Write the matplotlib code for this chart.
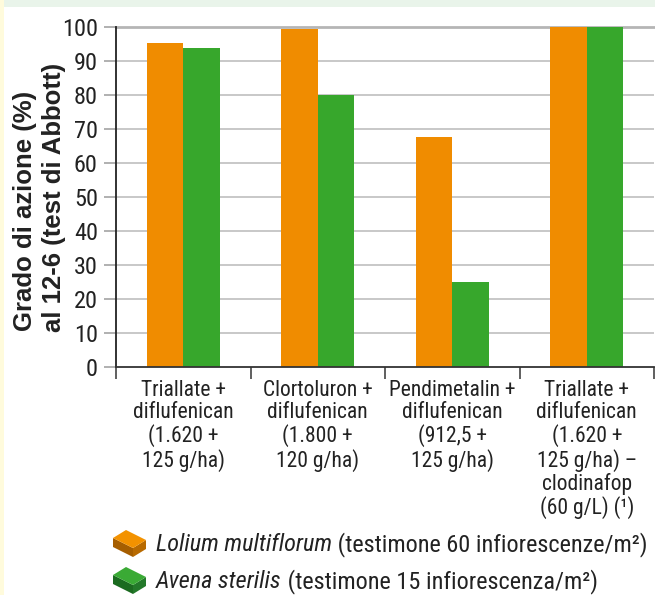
import matplotlib
matplotlib.use("Agg")
import matplotlib.pyplot as plt
from matplotlib import font_manager
from matplotlib.patches import Rectangle, Polygon
import numpy as np

categories = [
    "Triallate +\ndiflufenican\n(1.620 +\n125 g/ha)",
    "Clortoluron +\ndiflufenican\n(1.800 +\n120 g/ha)",
    "Pendimetalin +\ndiflufenican\n(912,5 +\n125 g/ha)",
    "Triallate +\ndiflufenican\n(1.620 +\n125 g/ha) \u2013\nclodinafop\n(60 g/L) (\u00b9)",
]
lolium = [95.3, 99.4, 67.6, 100]
avena = [93.9, 80.0, 25.0, 100]
yticks = [0, 10, 20, 30, 40, 50, 60, 70, 80, 90, 100]
series_names = ["Lolium multiflorum", "Avena sterilis"]
series_notes = [" (testimone 60 infiorescenze/m\u00b2)", " (testimone 15 infiorescenza/m\u00b2)"]

ORANGE = "#F08C00"
GREEN = "#37A72C"

names = {f.name for f in font_manager.fontManager.ttflist}
def pick(*cands):
    for c in cands:
        if c in names:
            return c
    return "DejaVu Sans"
COND = pick("Roboto Condensed", "Fira Sans Condensed", "PT Sans Narrow", "Liberation Sans")
REG = pick("Liberation Sans", "DejaVu Sans")

W, H = 655, 595
fig = plt.figure(figsize=(W / 100, H / 100), dpi=100)
fig.patch.set_facecolor("white")

def fx(x):
    return x / W

def fy(y):
    return 1 - y / H

# background strips
fig.add_artist(Rectangle((0, 0), fx(4), 1, transform=fig.transFigure,
                         facecolor="#FFFBDC", edgecolor="none", zorder=0))
fig.add_artist(Rectangle((fx(4), fy(7)), 1, 7 / H, transform=fig.transFigure,
                         facecolor="#E9F4EA", edgecolor="none", zorder=0))

ax = fig.add_axes([fx(116), fy(367), fx(654) - fx(116), (367 - 27) / H])
ax.set_facecolor("none")
x = np.arange(len(categories))
bw = 0.27
ax.bar(x - bw / 2, lolium, width=bw, color=ORANGE, zorder=3)
ax.bar(x + bw / 2, avena, width=bw, color=GREEN, zorder=3)
ax.set_xlim(-0.5, 3.5)
ax.set_ylim(0, 100)

# grid
for v in yticks:
    if v == 100:
        ax.axhline(v, color="#B5B5B5", lw=2.0, zorder=1, clip_on=False)
    elif v == 0:
        pass
    else:
        ax.axhline(v, color="#C8C8C8", lw=1.4, zorder=1)

for s in ["top", "right"]:
    ax.spines[s].set_visible(False)
ax.spines["left"].set_color("#222222")
ax.spines["left"].set_linewidth(1.3)
ax.spines["bottom"].set_color("#333333")
ax.spines["bottom"].set_linewidth(1.3)
ax.spines["bottom"].set_zorder(4)

ax.set_yticks(yticks)
ax.set_yticklabels([str(v) for v in yticks], fontsize=17.5, family=COND, color="#222222")
ax.tick_params(axis="y", length=8.6, width=1.4, color="#B0B0B0", pad=4.5)

ax.set_xticks(x)
ax.set_xticklabels(categories, fontsize=15.5, family=COND, color="#222222",
                   linespacing=1.08, va="top")
ax.tick_params(axis="x", which="major", length=0, pad=9)
ax.set_xticks([-0.5, 0.5, 1.5, 2.5, 3.5], minor=True)
ax.tick_params(axis="x", which="minor", length=8.6, width=1.2, color="#444444")

# y label (two lines)
fig.text(fx(25), fy(211), "Grado di azione (%)", rotation=90, ha="center", va="center",
         fontsize=18.5, family=REG, fontweight="bold", color="#222222")
fig.text(fx(54), fy(197), "al 12-6 (test di Abbott)", rotation=90, ha="center", va="center",
         fontsize=18.5, family=REG, fontweight="bold", color="#222222")

# legend icons (3D boxes)
def box(ox, oy, top, side1, side2):
    A = (ox + 0, oy + 8)
    B = (ox + 13, oy + 0)
    C = (ox + 33, oy + 10)
    D = (ox + 20, oy + 18)
    dh = 9
    def P(pts):
        return [(fx(p[0]), fy(p[1])) for p in pts]
    fig.add_artist(Polygon(P([A, D, (D[0], D[1] + dh), (A[0], A[1] + dh)]),
                           closed=True, transform=fig.transFigure, facecolor=side1, edgecolor="none"))
    fig.add_artist(Polygon(P([D, C, (C[0], C[1] + dh), (D[0], D[1] + dh)]),
                           closed=True, transform=fig.transFigure, facecolor=side2, edgecolor="none"))
    fig.add_artist(Polygon(P([A, B, C, D]), closed=True, transform=fig.transFigure,
                           facecolor=top, edgecolor="none"))

box(113, 530, "#F39200", "#A65E00", "#B86A00")
box(113, 567, "#3AAA35", "#1B6B20", "#23792A")

# legend texts, fitted to the reference width
fig.canvas.draw()
renderer = fig.canvas.get_renderer()
baselines = [551, 588]
fs = 16
probe1 = fig.text(0, 0, series_names[0], style="italic", fontsize=fs, family=COND)
probe2 = fig.text(0, 0, series_notes[0], fontsize=fs, family=COND)
wtot = probe1.get_window_extent(renderer).width + probe2.get_window_extent(renderer).width
probe1.remove(); probe2.remove()
fs = fs * (650 - 156) / wtot

for name, note, by in zip(series_names, series_notes, baselines):
    t1 = fig.text(fx(156), fy(by), name, style="italic", fontsize=fs, family=COND,
                  va="baseline", color="#222222")
    bb = t1.get_window_extent(renderer)
    fig.text(bb.x1 / W, fy(by), note, fontsize=fs, family=COND, va="baseline", color="#222222")

fig.savefig("out.png", dpi=100)
